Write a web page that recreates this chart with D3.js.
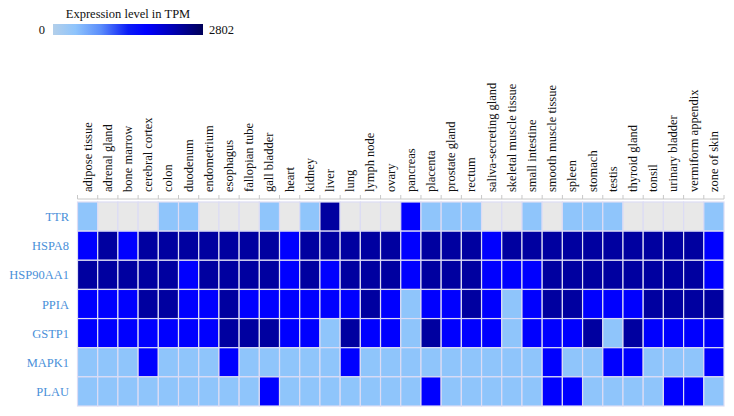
<!DOCTYPE html>
<html>
<head>
<meta charset="utf-8">
<script src="https://cdn.jsdelivr.net/npm/d3@7"></script>
<style>
  html, body { margin: 0; padding: 0; background: #fff; }
  svg { display: block; }
  text { font-family: "Liberation Serif", "DejaVu Serif", serif; }
</style>
</head>
<body>
<svg id="chart" width="734" height="416"></svg>
<script>
// ---- data ----
const tissues = ["adipose tissue","adrenal gland","bone marrow","cerebral cortex","colon","duodenum",
  "endometrium","esophagus","fallopian tube","gall bladder","heart","kidney","liver","lung","lymph node",
  "ovary","pancreas","placenta","prostate gland","rectum","saliva-secreting gland","skeletal muscle tissue",
  "small intestine","smooth muscle tissue","spleen","stomach","testis","thyroid gland","tonsil",
  "urinary bladder","vermiform appendix","zone of skin"];
const genes = ["TTR","HSPA8","HSP90AA1","PPIA","GSTP1","MAPK1","PLAU"];

const TTR      = [3,0,0,0,2,4,0,0,0,2,0,1,2802,0,0,0,420,3,2,2,0,0,5,0,1,3,2,0,0,0,0,2];
const HSPA8    = [850,1320,780,1450,1210,1180,1260,1390,1240,1150,720,1100,1350,1230,1410,1270,890,1300,1220,1190,940,1510,1160,1280,1330,1140,1620,1250,1370,1200,1290,810];
const HSP90AA1 = [1120,1260,1480,1340,1090,930,1210,1150,1300,1070,760,1040,650,1180,1420,1230,700,1190,1110,1060,880,910,960,1250,1380,1080,1560,1140,1350,1170,1200,870];
const PPIA     = [720,810,690,1150,1080,760,840,1020,780,650,830,870,600,940,1090,880,160,820,900,1050,740,140,920,1130,1170,860,790,950,1210,1060,1100,1040];
const GSTP1    = [540,620,480,510,700,660,590,1120,1250,1080,450,610,90,1060,780,560,170,1190,740,690,820,60,710,600,640,1010,120,1030,860,770,730,680];
const MAPK1    = [110,95,130,260,90,80,120,240,140,150,60,100,70,230,170,130,40,160,120,100,90,50,110,280,160,110,270,220,150,140,130,210];
const PLAU     = [40,20,30,15,60,45,70,80,55,320,10,25,5,90,75,35,8,410,65,50,30,12,55,290,260,40,6,20,95,230,250,85];

const legendMin = 0, legendMax = 2802;
const legendTitle = "Expression level in TPM";

// ---- build ----
const values = {TTR, HSPA8, HSP90AA1, PPIA, GSTP1, MAPK1, PLAU};
const cells = [];
genes.forEach(g => values[g].forEach((v, i) => cells.push({gene: g, tissue: tissues[i], value: v})));

const svg = d3.select("#chart");

const x = d3.scaleBand().domain(tissues).range([77.5, 724]).padding(0);
const y = d3.scaleBand().domain(genes).range([202, 406]).padding(0);

const color = d3.scaleThreshold()
  .domain([0.5, 200, 1000])
  .range(["#e8e8e8", "#8fc5fb", "#0000ff", "#0000a0"]);

// cells
svg.append("g").selectAll("rect").data(cells).join("rect")
  .attr("x", d => x(d.tissue))
  .attr("y", d => y(d.gene))
  .attr("width", x.bandwidth())
  .attr("height", y.bandwidth())
  .attr("fill", d => color(d.value))
  .attr("stroke", "#dcdcf4")
  .attr("stroke-width", 1.2);

// top axis line and ticks at band boundaries
const axisY = 199;
const ax = svg.append("g");
ax.append("line")
  .attr("x1", x.range()[0]).attr("x2", x.range()[1])
  .attr("y1", axisY).attr("y2", axisY)
  .attr("stroke", "#c8c8c8").attr("stroke-width", 1);
const bounds = tissues.map(t => x(t)).concat([x.range()[1]]);
ax.selectAll("line.tick").data(bounds).join("line")
  .attr("class", "tick")
  .attr("x1", d => d).attr("x2", d => d)
  .attr("y1", axisY).attr("y2", axisY - 4)
  .attr("stroke", "#c8c8c8").attr("stroke-width", 1);

// tissue labels
svg.append("g").selectAll("text").data(tissues).join("text")
  .attr("transform", d => `translate(${x(d) + x.bandwidth() / 2 + 4},192) rotate(-90)`)
  .attr("text-anchor", "start")
  .attr("font-size", 12.5)
  .attr("fill", "#111")
  .text(d => d);

// gene labels
svg.append("g").selectAll("text").data(genes).join("text")
  .attr("x", 69)
  .attr("y", d => y(d) + y.bandwidth() / 2 + 4.5)
  .attr("text-anchor", "end")
  .attr("font-size", 12.5)
  .attr("fill", "#4a90d9")
  .text(d => d);

// legend
const defs = svg.append("defs");
const grad = defs.append("linearGradient").attr("id", "lg").attr("x1", "0%").attr("x2", "100%");
[[0, "#b3cfea"], [0.15, "#8ec4fc"], [0.32, "#5a8cfb"], [0.5, "#0a1cf6"], [0.62, "#0000ff"], [0.8, "#0000b4"], [1, "#000058"]]
  .forEach(([o, c]) => grad.append("stop").attr("offset", o).attr("stop-color", c));

const lx = d3.scaleLinear().domain([legendMin, legendMax]).range([53, 203]);
svg.append("rect")
  .attr("x", lx(legendMin)).attr("y", 24)
  .attr("width", lx(legendMax) - lx(legendMin)).attr("height", 11)
  .attr("fill", "url(#lg)");
svg.append("text")
  .attr("x", (lx(legendMin) + lx(legendMax)) / 2).attr("y", 18)
  .attr("text-anchor", "middle").attr("font-size", 12.5).attr("fill", "#111")
  .text(legendTitle);
svg.append("text")
  .attr("x", lx(legendMin) - 8).attr("y", 34)
  .attr("text-anchor", "end").attr("font-size", 12.5).attr("fill", "#111")
  .text(legendMin);
svg.append("text")
  .attr("x", lx(legendMax) + 6).attr("y", 34)
  .attr("text-anchor", "start").attr("font-size", 12.5).attr("fill", "#111")
  .text(legendMax);
</script>
</body>
</html>
